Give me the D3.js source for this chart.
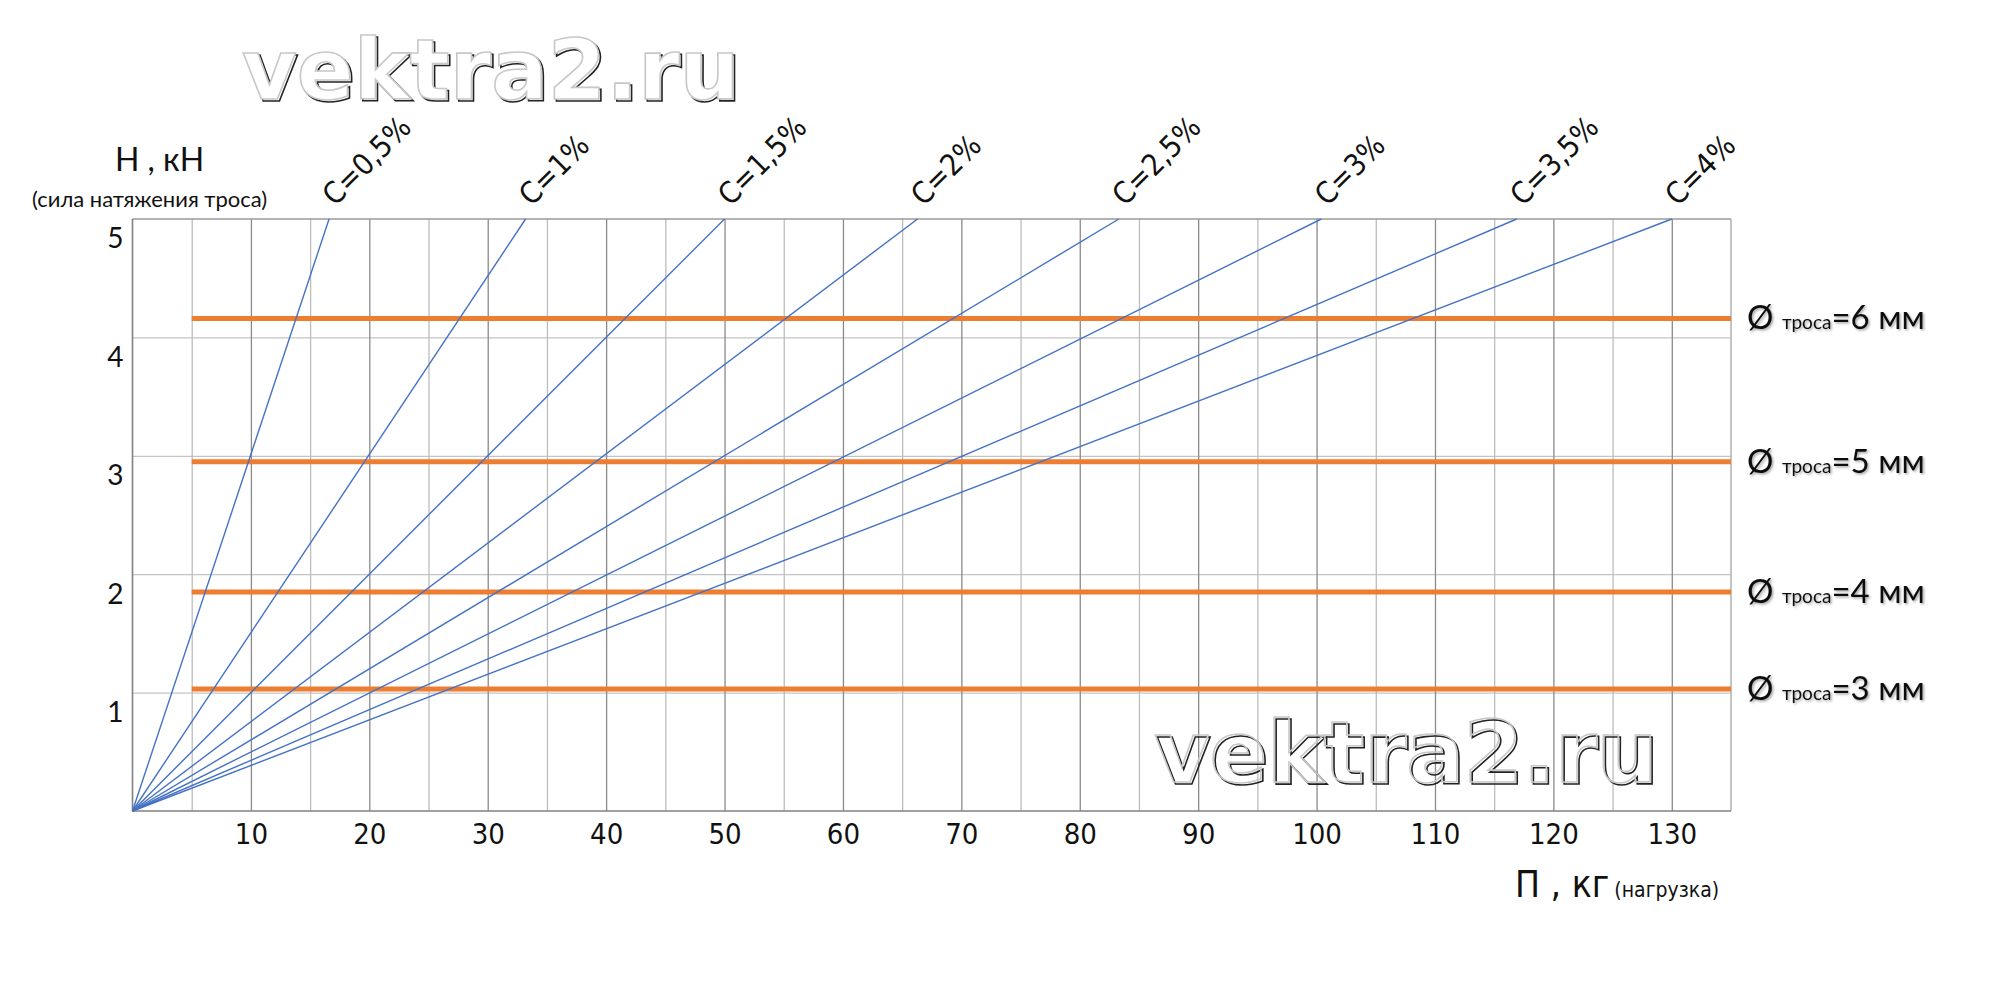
<!DOCTYPE html>
<html>
<head>
<meta charset="utf-8">
<script src="https://cdn.jsdelivr.net/npm/d3@7"></script>
<style>
  html, body { margin: 0; padding: 0; background: #fff; }
  svg { display: block; }
</style>
</head>
<body>
<svg id="chart" width="2000" height="1000"></svg>
<script>
// ---- data ----
const xTickValues = [10, 20, 30, 40, 50, 60, 70, 80, 90, 100, 110, 120, 130];
const yTickValues = [1, 2, 3, 4, 5];
const sagLabels = ["C=0,5%", "C=1%", "C=1,5%", "C=2%", "C=2,5%", "C=3%", "C=3,5%", "C=4%"];
// load П (kg) at which the tension reaches H = 5 kN, for each sag C
const sagLoadAtTop = [16.6, 33.2, 50.0, 66.3, 83.3, 100.4, 116.9, 130.0];
const sagTension = [5, 5, 5, 5, 5, 5, 5, 5];
const ropeLabels = ["=6 мм", "=5 мм", "=4 мм", "=3 мм"];
const ropeTension = [4.16, 2.95, 1.85, 1.03];
const ropeFrom = 5, ropeTo = 135;
const watermark = "vektra2.ru";

// ---- layout ----
const svg = d3.select("#chart");
const L = 132.5, R = 1731, T = 219, B = 811;
const x = d3.scaleLinear().domain([0, 135]).range([L, R]);
const y = d3.scaleLinear().domain([0, 5]).range([B, T]);

const defs = svg.append("defs");
const sh = defs.append("filter").attr("id", "shadow").attr("x", "-10%").attr("y", "-30%").attr("width", "130%").attr("height", "160%");
sh.append("feDropShadow").attr("dx", 1.5).attr("dy", 1.5).attr("stdDeviation", 1.2)
  .attr("flood-color", "#000").attr("flood-opacity", 0.35);

// horizontal grid
svg.append("g")
  .attr("transform", `translate(${L},0)`)
  .call(d3.axisLeft(y).tickValues([1, 2, 3, 4]).tickSize(-(R - L)).tickFormat(""))
  .call(g => g.select(".domain").remove())
  .call(g => g.selectAll("line").attr("stroke", "#c4c4c4").attr("stroke-width", 1.3));

// vertical grid: light every 5, darker every 10
const minor = d3.range(5, 135, 10);
svg.append("g")
  .attr("transform", `translate(0,${B})`)
  .call(d3.axisBottom(x).tickValues(minor).tickSize(-(B - T)).tickFormat(""))
  .call(g => g.select(".domain").remove())
  .call(g => g.selectAll("line").attr("stroke", "#bdbdbd").attr("stroke-width", 1.3));
svg.append("g")
  .attr("transform", `translate(0,${B})`)
  .call(d3.axisBottom(x).tickValues(xTickValues).tickSize(-(B - T)).tickFormat(""))
  .call(g => g.select(".domain").remove())
  .call(g => g.selectAll("line").attr("stroke", "#8a8a8a").attr("stroke-width", 1.3));

// frame
svg.append("line").attr("x1", L).attr("x2", R).attr("y1", T).attr("y2", T).attr("stroke", "#9a9a9a").attr("stroke-width", 1.5);
svg.append("line").attr("x1", R).attr("x2", R).attr("y1", T).attr("y2", B).attr("stroke", "#b0b0b0").attr("stroke-width", 1.5);
svg.append("line").attr("x1", L).attr("x2", L).attr("y1", T).attr("y2", B).attr("stroke", "#808080").attr("stroke-width", 1.6);
svg.append("line").attr("x1", L).attr("x2", R).attr("y1", B).attr("y2", B).attr("stroke", "#808080").attr("stroke-width", 1.6);

// x tick labels
svg.append("g")
  .attr("transform", `translate(0,${B})`)
  .call(d3.axisBottom(x).tickValues(xTickValues).tickSize(0).tickPadding(12).tickFormat(d3.format("d")))
  .call(g => g.select(".domain").remove())
  .call(g => g.selectAll("text")
    .attr("font-family", "'Liberation Sans Narrow', 'DejaVu Sans Condensed', sans-serif")
    .attr("font-size", 29).attr("fill", "#111"));

// y tick labels (sit slightly below their grid lines, as in the original)
svg.append("g")
  .attr("transform", `translate(${L},20)`)
  .call(d3.axisLeft(y).tickValues(yTickValues).tickSize(0).tickPadding(9).tickFormat(d3.format("d")))
  .call(g => g.select(".domain").remove())
  .call(g => g.selectAll("text")
    .attr("font-family", "Lato, 'Open Sans', sans-serif")
    .attr("font-size", 28).attr("fill", "#111"));

// orange rope-diameter lines
svg.append("g").selectAll("line").data(ropeTension).join("line")
  .attr("x1", x(ropeFrom)).attr("x2", x(ropeTo))
  .attr("y1", d => y(d)).attr("y2", d => y(d))
  .attr("stroke", "#ED7D31").attr("stroke-width", 5);

// blue sag lines
const line = d3.line().x(d => x(d[0])).y(d => y(d[1]));
svg.append("g").selectAll("path").data(sagLoadAtTop).join("path")
  .attr("d", (d, i) => line([[0, 0], [d, sagTension[i]]]))
  .attr("fill", "none").attr("stroke", "#4472C4").attr("stroke-width", 1.4);

// sag labels, rotated
svg.append("g").selectAll("text").data(sagLabels).join("text")
  .attr("transform", (d, i) => `translate(${x(sagLoadAtTop[i]) + 6},${T - 12}) rotate(-45)`)
  .attr("font-family", "'Liberation Sans Narrow', 'DejaVu Sans Condensed', sans-serif")
  .attr("font-size", 30).attr("fill", "#111")
  .text(d => d);

// rope labels
const rl = svg.append("g").selectAll("text").data(ropeLabels).join("text")
  .attr("x", R + 16).attr("y", (d, i) => y(ropeTension[i]) + 11)
  .attr("font-family", "Lato, 'Open Sans', sans-serif")
  .attr("fill", "#111").attr("filter", "url(#shadow)");
rl.append("tspan").attr("font-size", 33).text("Ø ");
rl.append("tspan").attr("font-size", 19).text("троса");
rl.append("tspan").attr("font-size", 33).text(d => d);

// axis titles
svg.append("text").attr("x", 115).attr("y", 171)
  .attr("font-family", "Lato, 'Open Sans', sans-serif").attr("font-size", 32).attr("fill", "#111")
  .text("H , кН");
svg.append("text").attr("x", 32).attr("y", 207)
  .attr("font-family", "Lato, 'Open Sans', sans-serif").attr("font-size", 22).attr("fill", "#111")
  .text("(сила натяжения троса)");
const xt = svg.append("text").attr("x", 1515).attr("y", 897)
  .attr("font-family", "'Liberation Sans Narrow', 'DejaVu Sans Condensed', sans-serif").attr("fill", "#111");
xt.append("tspan").attr("font-size", 37).text("П , кг");
xt.append("tspan").attr("font-size", 21).attr("dx", 5).text("(нагрузка)");

// watermarks
function mark(px, py, size, fill) {
  svg.append("text").attr("x", px + 2).attr("y", py + 2)
    .attr("font-family", "'DejaVu Sans', sans-serif").attr("font-weight", "bold").attr("font-size", size)
    .attr("fill", "none").attr("stroke", "#222").attr("stroke-width", 1.6).text(watermark);
  svg.append("text").attr("x", px).attr("y", py)
    .attr("font-family", "'DejaVu Sans', sans-serif").attr("font-weight", "bold").attr("font-size", size)
    .attr("fill", fill).attr("stroke", "#c8c8c8").attr("stroke-width", 1.6).text(watermark);
}
mark(242, 99, 84, "#fff");
mark(1154, 782, 85, "none");
</script>
</body>
</html>
